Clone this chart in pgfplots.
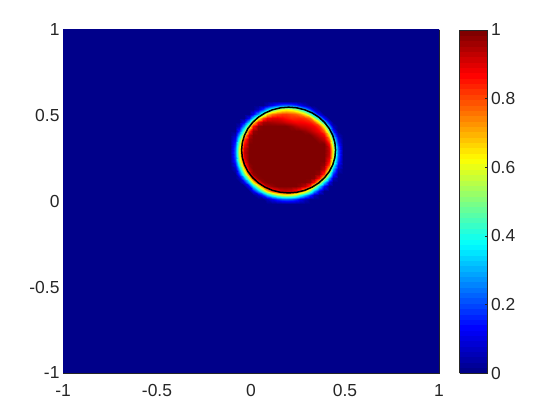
\documentclass[border=0pt]{standalone}
\usepackage{pgfplots}
\pgfplotsset{compat=1.18}
\usepackage{fontspec}
\setmainfont{Liberation Sans}
\definecolor{axgray}{rgb}{0.15,0.15,0.15}
\pgfplotsset{
  colormap={mjet}{rgb255(0cm)=(0,0,138); rgb255(1cm)=(0,0,255); rgb255(3cm)=(0,255,255); rgb255(5cm)=(255,255,0); rgb255(7cm)=(255,0,0); rgb255(8cm)=(128,0,0)},
  colormap={mjetsteps}{samples of colormap=(64 of mjet)},
}
\begin{document}
\begin{tikzpicture}
\begin{axis}[
  name=ax,
  width=376bp, height=343bp, scale only axis,
  xmin=-1, xmax=1, ymin=-1, ymax=1,
  enlargelimits=false,
  xtick={-1,-0.5,0,0.5,1}, ytick={-1,-0.5,0,0.5,1},
  tick align=inside, major tick length=4bp,
  axis line style={draw=axgray, line width=0.5bp},
  tick style={draw=axgray},
  ticklabel style={font=\fontsize{17.5}{21}\selectfont, text=axgray},
  xticklabel style={yshift=-8bp},
  /pgf/number format/assume math mode=true,
  colormap name=mjet,
  point meta min=0, point meta max=1,
  colorbar,
  colorbar style={
    at={(parent axis.north east)}, anchor=north west, xshift=12bp,
    width=28bp,
    colormap name=mjetsteps, colormap access=piecewise constant,
    ytick={0,0.2,0.4,0.6,0.8,1},
    ytick pos=right, tick align=inside, major tick length=3bp,
    axis line style={draw=axgray, line width=0.5bp},
    tick style={draw=axgray},
    yticklabel style={font=\fontsize{17.5}{21}\selectfont, text=axgray, /pgf/number format/assume math mode=true},
  },
]
% background field (value 0 everywhere)
\addplot[matrix plot*, shader=flat, point meta=explicit, mesh/cols=2, mesh/rows=2]
  coordinates {(-1,-1)[0] (1,-1)[0] (-1,1)[0] (1,1)[0]};
% field around the circle
\addplot[matrix plot*, shader=interp, point meta=explicit, mesh/cols=25, mesh/rows=25] coordinates {
(-0.1,0)[0] (-0.075,0)[0] (-0.05,0)[0] (-0.025,0)[0] (0,0)[0] (0.025,0)[0] (0.05,0)[0] (0.075,0)[0] (0.1,0)[0] (0.125,0)[0] (0.15,0)[0] (0.175,0)[0] (0.2,0)[0] (0.225,0)[0] (0.25,0)[0] (0.275,0)[0] (0.3,0)[0] (0.325,0)[0] (0.35,0)[0] (0.375,0)[0] (0.4,0)[0] (0.425,0)[0] (0.45,0)[0] (0.475,0)[0] (0.5,0)[0]
(-0.1,0.025)[0] (-0.075,0.025)[0] (-0.05,0.025)[0] (-0.025,0.025)[0] (0,0.025)[0] (0.025,0.025)[0] (0.05,0.025)[0] (0.075,0.025)[0] (0.1,0.025)[0.05] (0.125,0.025)[0.11] (0.15,0.025)[0.17] (0.175,0.025)[0.21] (0.2,0.025)[0.22] (0.225,0.025)[0.21] (0.25,0.025)[0.17] (0.275,0.025)[0.11] (0.3,0.025)[0.05] (0.325,0.025)[0] (0.35,0.025)[0] (0.375,0.025)[0] (0.4,0.025)[0] (0.425,0.025)[0] (0.45,0.025)[0] (0.475,0.025)[0] (0.5,0.025)[0]
(-0.1,0.05)[0] (-0.075,0.05)[0] (-0.05,0.05)[0] (-0.025,0.05)[0] (0,0.05)[0] (0.025,0.05)[0] (0.05,0.05)[0.05] (0.075,0.05)[0.17] (0.1,0.05)[0.3] (0.125,0.05)[0.42] (0.15,0.05)[0.52] (0.175,0.05)[0.58] (0.2,0.05)[0.6] (0.225,0.05)[0.58] (0.25,0.05)[0.52] (0.275,0.05)[0.42] (0.3,0.05)[0.3] (0.325,0.05)[0.17] (0.35,0.05)[0.05] (0.375,0.05)[0] (0.4,0.05)[0] (0.425,0.05)[0] (0.45,0.05)[0] (0.475,0.05)[0] (0.5,0.05)[0]
(-0.1,0.075)[0] (-0.075,0.075)[0] (-0.05,0.075)[0] (-0.025,0.075)[0] (0,0.075)[0] (0.025,0.075)[0.11] (0.05,0.075)[0.28] (0.075,0.075)[0.48] (0.1,0.075)[0.66] (0.125,0.075)[0.8] (0.15,0.075)[0.87] (0.175,0.075)[0.92] (0.2,0.075)[0.93] (0.225,0.075)[0.92] (0.25,0.075)[0.87] (0.275,0.075)[0.8] (0.3,0.075)[0.66] (0.325,0.075)[0.48] (0.35,0.075)[0.28] (0.375,0.075)[0.11] (0.4,0.075)[0] (0.425,0.075)[0] (0.45,0.075)[0] (0.475,0.075)[0] (0.5,0.075)[0]
(-0.1,0.1)[0] (-0.075,0.1)[0] (-0.05,0.1)[0] (-0.025,0.1)[0] (0,0.1)[0.13] (0.025,0.1)[0.35] (0.05,0.1)[0.6] (0.075,0.1)[0.82] (0.1,0.1)[0.94] (0.125,0.1)[0.98] (0.15,0.1)[1] (0.175,0.1)[1] (0.2,0.1)[1] (0.225,0.1)[1] (0.25,0.1)[1] (0.275,0.1)[0.98] (0.3,0.1)[0.94] (0.325,0.1)[0.82] (0.35,0.1)[0.6] (0.375,0.1)[0.35] (0.4,0.1)[0.13] (0.425,0.1)[0] (0.45,0.1)[0] (0.475,0.1)[0] (0.5,0.1)[0]
(-0.1,0.125)[0] (-0.075,0.125)[0] (-0.05,0.125)[0] (-0.025,0.125)[0.11] (0,0.125)[0.35] (0.025,0.125)[0.64] (0.05,0.125)[0.87] (0.075,0.125)[0.98] (0.1,0.125)[1] (0.125,0.125)[1] (0.15,0.125)[1] (0.175,0.125)[1] (0.2,0.125)[1] (0.225,0.125)[1] (0.25,0.125)[1] (0.275,0.125)[1] (0.3,0.125)[1] (0.325,0.125)[0.98] (0.35,0.125)[0.87] (0.375,0.125)[0.64] (0.4,0.125)[0.35] (0.425,0.125)[0.11] (0.45,0.125)[0] (0.475,0.125)[0] (0.5,0.125)[0]
(-0.1,0.15)[0] (-0.075,0.15)[0] (-0.05,0.15)[0.05] (-0.025,0.15)[0.28] (0,0.15)[0.6] (0.025,0.15)[0.87] (0.05,0.15)[0.99] (0.075,0.15)[1] (0.1,0.15)[1] (0.125,0.15)[1] (0.15,0.15)[1] (0.175,0.15)[1] (0.2,0.15)[1] (0.225,0.15)[1] (0.25,0.15)[1] (0.275,0.15)[1] (0.3,0.15)[1] (0.325,0.15)[1] (0.35,0.15)[0.99] (0.375,0.15)[0.87] (0.4,0.15)[0.6] (0.425,0.15)[0.28] (0.45,0.15)[0.05] (0.475,0.15)[0] (0.5,0.15)[0]
(-0.1,0.175)[0] (-0.075,0.175)[0] (-0.05,0.175)[0.17] (-0.025,0.175)[0.48] (0,0.175)[0.82] (0.025,0.175)[0.98] (0.05,0.175)[1] (0.075,0.175)[1] (0.1,0.175)[1] (0.125,0.175)[1] (0.15,0.175)[1] (0.175,0.175)[1] (0.2,0.175)[1] (0.225,0.175)[1] (0.25,0.175)[1] (0.275,0.175)[1] (0.3,0.175)[1] (0.325,0.175)[1] (0.35,0.175)[1] (0.375,0.175)[0.98] (0.4,0.175)[0.82] (0.425,0.175)[0.48] (0.45,0.175)[0.17] (0.475,0.175)[0] (0.5,0.175)[0]
(-0.1,0.2)[0] (-0.075,0.2)[0.05] (-0.05,0.2)[0.3] (-0.025,0.2)[0.66] (0,0.2)[0.94] (0.025,0.2)[1] (0.05,0.2)[1] (0.075,0.2)[1] (0.1,0.2)[1] (0.125,0.2)[1] (0.15,0.2)[1] (0.175,0.2)[1] (0.2,0.2)[1] (0.225,0.2)[1] (0.25,0.2)[1] (0.275,0.2)[1] (0.3,0.2)[1] (0.325,0.2)[1] (0.35,0.2)[1] (0.375,0.2)[1] (0.4,0.2)[0.94] (0.425,0.2)[0.66] (0.45,0.2)[0.3] (0.475,0.2)[0.05] (0.5,0.2)[0]
(-0.1,0.225)[0] (-0.075,0.225)[0.11] (-0.05,0.225)[0.42] (-0.025,0.225)[0.8] (0,0.225)[0.98] (0.025,0.225)[1] (0.05,0.225)[1] (0.075,0.225)[1] (0.1,0.225)[1] (0.125,0.225)[1] (0.15,0.225)[1] (0.175,0.225)[1] (0.2,0.225)[1] (0.225,0.225)[1] (0.25,0.225)[1] (0.275,0.225)[1] (0.3,0.225)[1] (0.325,0.225)[1] (0.35,0.225)[1] (0.375,0.225)[1] (0.4,0.225)[0.98] (0.425,0.225)[0.8] (0.45,0.225)[0.42] (0.475,0.225)[0.11] (0.5,0.225)[0]
(-0.1,0.25)[0] (-0.075,0.25)[0.17] (-0.05,0.25)[0.52] (-0.025,0.25)[0.87] (0,0.25)[1] (0.025,0.25)[1] (0.05,0.25)[1] (0.075,0.25)[1] (0.1,0.25)[1] (0.125,0.25)[1] (0.15,0.25)[1] (0.175,0.25)[1] (0.2,0.25)[1] (0.225,0.25)[1] (0.25,0.25)[1] (0.275,0.25)[1] (0.3,0.25)[1] (0.325,0.25)[1] (0.35,0.25)[1] (0.375,0.25)[1] (0.4,0.25)[1] (0.425,0.25)[0.87] (0.45,0.25)[0.52] (0.475,0.25)[0.17] (0.5,0.25)[0]
(-0.1,0.275)[0] (-0.075,0.275)[0.21] (-0.05,0.275)[0.58] (-0.025,0.275)[0.92] (0,0.275)[1] (0.025,0.275)[1] (0.05,0.275)[1] (0.075,0.275)[1] (0.1,0.275)[1] (0.125,0.275)[1] (0.15,0.275)[1] (0.175,0.275)[1] (0.2,0.275)[1] (0.225,0.275)[1] (0.25,0.275)[1] (0.275,0.275)[1] (0.3,0.275)[1] (0.325,0.275)[1] (0.35,0.275)[1] (0.375,0.275)[1] (0.4,0.275)[1] (0.425,0.275)[0.92] (0.45,0.275)[0.58] (0.475,0.275)[0.21] (0.5,0.275)[0]
(-0.1,0.3)[0] (-0.075,0.3)[0.22] (-0.05,0.3)[0.6] (-0.025,0.3)[0.93] (0,0.3)[1] (0.025,0.3)[1] (0.05,0.3)[1] (0.075,0.3)[1] (0.1,0.3)[1] (0.125,0.3)[1] (0.15,0.3)[1] (0.175,0.3)[1] (0.2,0.3)[1] (0.225,0.3)[1] (0.25,0.3)[1] (0.275,0.3)[1] (0.3,0.3)[1] (0.325,0.3)[1] (0.35,0.3)[1] (0.375,0.3)[1] (0.4,0.3)[1] (0.425,0.3)[0.93] (0.45,0.3)[0.6] (0.475,0.3)[0.22] (0.5,0.3)[0]
(-0.1,0.325)[0] (-0.075,0.325)[0.21] (-0.05,0.325)[0.58] (-0.025,0.325)[0.92] (0,0.325)[1] (0.025,0.325)[1] (0.05,0.325)[1] (0.075,0.325)[1] (0.1,0.325)[1] (0.125,0.325)[1] (0.15,0.325)[1] (0.175,0.325)[1] (0.2,0.325)[1] (0.225,0.325)[1] (0.25,0.325)[1] (0.275,0.325)[1] (0.3,0.325)[1] (0.325,0.325)[1] (0.35,0.325)[1] (0.375,0.325)[1] (0.4,0.325)[1] (0.425,0.325)[0.92] (0.45,0.325)[0.58] (0.475,0.325)[0.21] (0.5,0.325)[0]
(-0.1,0.35)[0] (-0.075,0.35)[0.17] (-0.05,0.35)[0.52] (-0.025,0.35)[0.87] (0,0.35)[1] (0.025,0.35)[1] (0.05,0.35)[1] (0.075,0.35)[1] (0.1,0.35)[1] (0.125,0.35)[1] (0.15,0.35)[1] (0.175,0.35)[1] (0.2,0.35)[1] (0.225,0.35)[1] (0.25,0.35)[1] (0.275,0.35)[1] (0.3,0.35)[1] (0.325,0.35)[1] (0.35,0.35)[1] (0.375,0.35)[1] (0.4,0.35)[1] (0.425,0.35)[0.87] (0.45,0.35)[0.52] (0.475,0.35)[0.17] (0.5,0.35)[0]
(-0.1,0.375)[0] (-0.075,0.375)[0.11] (-0.05,0.375)[0.42] (-0.025,0.375)[0.8] (0,0.375)[0.98] (0.025,0.375)[1] (0.05,0.375)[1] (0.075,0.375)[1] (0.1,0.375)[1] (0.125,0.375)[1] (0.15,0.375)[1] (0.175,0.375)[1] (0.2,0.375)[1] (0.225,0.375)[1] (0.25,0.375)[1] (0.275,0.375)[1] (0.3,0.375)[1] (0.325,0.375)[1] (0.35,0.375)[1] (0.375,0.375)[0.97] (0.4,0.375)[0.93] (0.425,0.375)[0.76] (0.45,0.375)[0.42] (0.475,0.375)[0.11] (0.5,0.375)[0]
(-0.1,0.4)[0] (-0.075,0.4)[0.05] (-0.05,0.4)[0.3] (-0.025,0.4)[0.66] (0,0.4)[0.94] (0.025,0.4)[1] (0.05,0.4)[1] (0.075,0.4)[1] (0.1,0.4)[1] (0.125,0.4)[1] (0.15,0.4)[1] (0.175,0.4)[1] (0.2,0.4)[1] (0.225,0.4)[1] (0.25,0.4)[1] (0.275,0.4)[1] (0.3,0.4)[1] (0.325,0.4)[1] (0.35,0.4)[0.97] (0.375,0.4)[0.93] (0.4,0.4)[0.88] (0.425,0.4)[0.64] (0.45,0.4)[0.3] (0.475,0.4)[0.05] (0.5,0.4)[0]
(-0.1,0.425)[0] (-0.075,0.425)[0] (-0.05,0.425)[0.17] (-0.025,0.425)[0.48] (0,0.425)[0.82] (0.025,0.425)[0.98] (0.05,0.425)[1] (0.075,0.425)[1] (0.1,0.425)[1] (0.125,0.425)[1] (0.15,0.425)[1] (0.175,0.425)[1] (0.2,0.425)[1] (0.225,0.425)[1] (0.25,0.425)[1] (0.275,0.425)[1] (0.3,0.425)[0.98] (0.325,0.425)[0.95] (0.35,0.425)[0.92] (0.375,0.425)[0.88] (0.4,0.425)[0.78] (0.425,0.425)[0.48] (0.45,0.425)[0.17] (0.475,0.425)[0] (0.5,0.425)[0]
(-0.1,0.45)[0] (-0.075,0.45)[0] (-0.05,0.45)[0.05] (-0.025,0.45)[0.28] (0,0.45)[0.6] (0.025,0.45)[0.87] (0.05,0.45)[0.99] (0.075,0.45)[1] (0.1,0.45)[1] (0.125,0.45)[1] (0.15,0.45)[1] (0.175,0.45)[1] (0.2,0.45)[1] (0.225,0.45)[0.98] (0.25,0.45)[0.95] (0.275,0.45)[0.93] (0.3,0.45)[0.92] (0.325,0.45)[0.9] (0.35,0.45)[0.88] (0.375,0.45)[0.82] (0.4,0.45)[0.6] (0.425,0.45)[0.28] (0.45,0.45)[0.05] (0.475,0.45)[0] (0.5,0.45)[0]
(-0.1,0.475)[0] (-0.075,0.475)[0] (-0.05,0.475)[0] (-0.025,0.475)[0.11] (0,0.475)[0.35] (0.025,0.475)[0.64] (0.05,0.475)[0.87] (0.075,0.475)[0.96] (0.1,0.475)[0.97] (0.125,0.475)[0.96] (0.15,0.475)[0.95] (0.175,0.475)[0.94] (0.2,0.475)[0.92] (0.225,0.475)[0.9] (0.25,0.475)[0.88] (0.275,0.475)[0.88] (0.3,0.475)[0.87] (0.325,0.475)[0.85] (0.35,0.475)[0.8] (0.375,0.475)[0.62] (0.4,0.475)[0.35] (0.425,0.475)[0.11] (0.45,0.475)[0] (0.475,0.475)[0] (0.5,0.475)[0]
(-0.1,0.5)[0] (-0.075,0.5)[0] (-0.05,0.5)[0] (-0.025,0.5)[0] (0,0.5)[0.13] (0.025,0.5)[0.35] (0.05,0.5)[0.6] (0.075,0.5)[0.8] (0.1,0.5)[0.88] (0.125,0.5)[0.9] (0.15,0.5)[0.9] (0.175,0.5)[0.88] (0.2,0.5)[0.86] (0.225,0.5)[0.84] (0.25,0.5)[0.84] (0.275,0.5)[0.84] (0.3,0.5)[0.82] (0.325,0.5)[0.76] (0.35,0.5)[0.58] (0.375,0.5)[0.35] (0.4,0.5)[0.13] (0.425,0.5)[0] (0.45,0.5)[0] (0.475,0.5)[0] (0.5,0.5)[0]
(-0.1,0.525)[0] (-0.075,0.525)[0] (-0.05,0.525)[0] (-0.025,0.525)[0] (0,0.525)[0] (0.025,0.525)[0.11] (0.05,0.525)[0.28] (0.075,0.525)[0.48] (0.1,0.525)[0.66] (0.125,0.525)[0.76] (0.15,0.525)[0.8] (0.175,0.525)[0.82] (0.2,0.525)[0.82] (0.225,0.525)[0.8] (0.25,0.525)[0.78] (0.275,0.525)[0.74] (0.3,0.525)[0.64] (0.325,0.525)[0.48] (0.35,0.525)[0.28] (0.375,0.525)[0.11] (0.4,0.525)[0] (0.425,0.525)[0] (0.45,0.525)[0] (0.475,0.525)[0] (0.5,0.525)[0]
(-0.1,0.55)[0] (-0.075,0.55)[0] (-0.05,0.55)[0] (-0.025,0.55)[0] (0,0.55)[0] (0.025,0.55)[0] (0.05,0.55)[0.05] (0.075,0.55)[0.17] (0.1,0.55)[0.3] (0.125,0.55)[0.42] (0.15,0.55)[0.52] (0.175,0.55)[0.58] (0.2,0.55)[0.6] (0.225,0.55)[0.58] (0.25,0.55)[0.52] (0.275,0.55)[0.42] (0.3,0.55)[0.3] (0.325,0.55)[0.17] (0.35,0.55)[0.05] (0.375,0.55)[0] (0.4,0.55)[0] (0.425,0.55)[0] (0.45,0.55)[0] (0.475,0.55)[0] (0.5,0.55)[0]
(-0.1,0.575)[0] (-0.075,0.575)[0] (-0.05,0.575)[0] (-0.025,0.575)[0] (0,0.575)[0] (0.025,0.575)[0] (0.05,0.575)[0] (0.075,0.575)[0] (0.1,0.575)[0.05] (0.125,0.575)[0.11] (0.15,0.575)[0.17] (0.175,0.575)[0.21] (0.2,0.575)[0.22] (0.225,0.575)[0.21] (0.25,0.575)[0.17] (0.275,0.575)[0.11] (0.3,0.575)[0.05] (0.325,0.575)[0] (0.35,0.575)[0] (0.375,0.575)[0] (0.4,0.575)[0] (0.425,0.575)[0] (0.45,0.575)[0] (0.475,0.575)[0] (0.5,0.575)[0]
(-0.1,0.6)[0] (-0.075,0.6)[0] (-0.05,0.6)[0] (-0.025,0.6)[0] (0,0.6)[0] (0.025,0.6)[0] (0.05,0.6)[0] (0.075,0.6)[0] (0.1,0.6)[0] (0.125,0.6)[0] (0.15,0.6)[0] (0.175,0.6)[0] (0.2,0.6)[0] (0.225,0.6)[0] (0.25,0.6)[0] (0.275,0.6)[0] (0.3,0.6)[0] (0.325,0.6)[0] (0.35,0.6)[0] (0.375,0.6)[0] (0.4,0.6)[0] (0.425,0.6)[0] (0.45,0.6)[0] (0.475,0.6)[0] (0.5,0.6)[0]
};
% contour line
\addplot[black, line width=1.5bp, mark=none] coordinates {
(0.45,0.3) (0.4462,0.3434) (0.4349,0.3855) (0.4165,0.425) (0.3915,0.4607) (0.3607,0.4915)
(0.325,0.5165) (0.2855,0.5349) (0.2434,0.5462) (0.2,0.55) (0.1566,0.5462) (0.1145,0.5349)
(0.075,0.5165) (0.0393,0.4915) (0.0085,0.4607) (-0.0165,0.425) (-0.0349,0.3855) (-0.0462,0.3434)
(-0.05,0.3) (-0.0462,0.2566) (-0.0349,0.2145) (-0.0165,0.175) (0.0085,0.1393) (0.0393,0.1085)
(0.075,0.0835) (0.1145,0.0651) (0.1566,0.0538) (0.2,0.05) (0.2434,0.0538) (0.2855,0.0651)
(0.325,0.0835) (0.3607,0.1085) (0.3915,0.1393) (0.4165,0.175) (0.4349,0.2145) (0.4462,0.2566)
(0.45,0.3)
};
\end{axis}
\path ([xshift=-63bp,yshift=-47bp]ax.south west) rectangle ([xshift=121bp,yshift=30bp]ax.north east);
\end{tikzpicture}
\end{document}
